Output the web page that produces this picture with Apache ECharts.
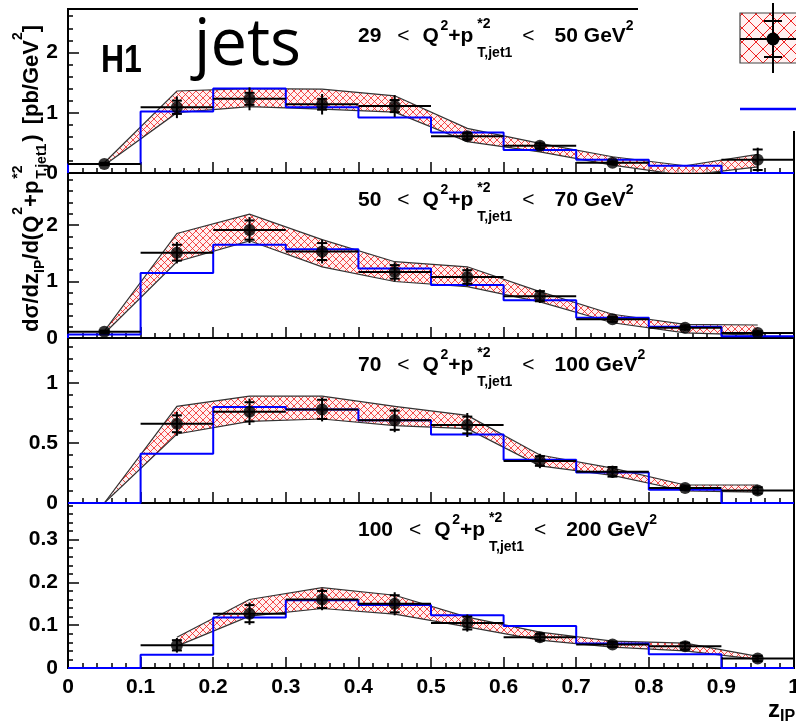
<!DOCTYPE html>
<html>
<head>
<meta charset="utf-8">
<script src="https://cdn.jsdelivr.net/npm/echarts@6/dist/echarts.min.js"></script>
<style>
  html, body { margin: 0; padding: 0; background: #fff; overflow: hidden; }
  #chart { width: 796px; height: 725px; }
</style>
</head>
<body>
<div id="chart"></div>
<script>
// ---- binning in z_IP ----
const zCenters = [0.05, 0.15, 0.25, 0.35, 0.45, 0.55, 0.65, 0.75, 0.85, 0.95];
const zEdges = [0, 0.1, 0.2, 0.3, 0.4, 0.5, 0.6, 0.7, 0.8, 0.9, 1.0];
const halfBin = 0.05;
const xTickLabels = ['0', '0.1', '0.2', '0.3', '0.4', '0.5', '0.6', '0.7', '0.8', '0.9', '1'];

// ---- 29 < Q2+pT*2 < 50 GeV2 ----
const xsec1  = [0.15, 1.09, 1.23, 1.14, 1.11, 0.61, 0.45, 0.17, null, 0.22];
const stat1  = [0.02, 0.11, 0.10, 0.09, 0.10, 0.05, 0.04, 0.02, null, 0.17];
const total1 = [0.03, 0.18, 0.19, 0.17, 0.18, 0.08, 0.07, 0.04, null, 0.20];
const nloUp1 = [0.17, 1.36, 1.40, 1.39, 1.28, 0.74, 0.49, 0.27, 0.12, 0.31];
const nloLo1 = [0.13, 1.00, 1.10, 1.06, 1.01, 0.52, 0.35, 0.13, -0.04, 0.10];
const mc1    = [0.15, 1.02, 1.40, 1.09, 0.92, 0.67, 0.38, 0.22, 0.12, 0.0];

// ---- 50 < Q2+pT*2 < 70 GeV2 ----
const xsec2  = [0.11, 1.51, 1.91, 1.53, 1.17, 1.08, 0.74, 0.33, 0.18, 0.09];
const stat2  = [0.02, 0.14, 0.17, 0.15, 0.12, 0.12, 0.09, 0.04, 0.03, 0.03];
const total2 = [0.03, 0.19, 0.23, 0.21, 0.17, 0.16, 0.12, 0.06, 0.05, 0.05];
const nloUp2 = [0.12, 1.85, 2.19, 1.74, 1.35, 1.26, 0.82, 0.42, 0.24, 0.23];
const nloLo2 = [0.08, 1.35, 1.72, 1.26, 1.00, 0.91, 0.64, 0.27, 0.09, 0.05];
const mc2    = [0.06, 1.15, 1.65, 1.57, 1.23, 0.94, 0.67, 0.36, 0.20, 0.03];

// ---- 70 < Q2+pT*2 < 100 GeV2 ----
const xsec3  = [null, 0.66, 0.76, 0.78, 0.69, 0.65, 0.35, 0.26, 0.125, 0.105];
const stat3  = [null, 0.07, 0.08, 0.08, 0.08, 0.07, 0.04, 0.04, 0.015, 0.025];
const total3 = [null, 0.10, 0.11, 0.10, 0.10, 0.10, 0.06, 0.05, 0.025, 0.04];
const nloUp3 = [0.0, 0.805, 0.89, 0.89, 0.805, 0.73, 0.40, 0.29, 0.15, 0.15];
const nloLo3 = [0.0, 0.575, 0.68, 0.70, 0.645, 0.62, 0.31, 0.23, 0.10, 0.09];
const mc3    = [0.0, 0.41, 0.80, 0.78, 0.69, 0.57, 0.36, 0.255, 0.11, 0.0];

// ---- 100 < Q2+pT*2 < 200 GeV2 ----
const xsec4  = [null, 0.053, 0.127, 0.160, 0.150, 0.105, 0.072, 0.055, 0.051, 0.022];
const stat4  = [null, 0.012, 0.020, 0.020, 0.020, 0.015, 0.008, 0.006, 0.008, 0.006];
const total4 = [null, 0.017, 0.026, 0.025, 0.027, 0.020, 0.012, 0.009, 0.012, 0.009];
const nloUp4 = [null, 0.072, 0.160, 0.188, 0.170, 0.119, 0.084, 0.063, 0.058, 0.027];
const nloLo4 = [null, 0.051, 0.121, 0.139, 0.126, 0.096, 0.065, 0.049, 0.040, 0.020];
const mc4    = [0.0, 0.031, 0.118, 0.158, 0.147, 0.123, 0.098, 0.057, 0.032, 0.0];

const scaleLow  = ['29', '50', '70', '100'];
const scaleHigh = ['50', '70', '100', '200'];

// ---- per-panel y axis ranges ----
const yMax   = [2.72, 2.92, 1.375, 0.3855];
const yMajor = [1, 1, 0.5, 0.1];
const yMinor = [0.2, 0.2, 0.1, 0.02];

const panels = [
  { xsec: xsec1, stat: stat1, total: total1, up: nloUp1, lo: nloLo1, mc: mc1 },
  { xsec: xsec2, stat: stat2, total: total2, up: nloUp2, lo: nloLo2, mc: mc2 },
  { xsec: xsec3, stat: stat3, total: total3, up: nloUp3, lo: nloLo3, mc: mc3 },
  { xsec: xsec4, stat: stat4, total: total4, up: nloUp4, lo: nloLo4, mc: mc4 }
];

// ---- layout ----
const panelTop = [9, 173, 338, 503];
const panelHeight = [164, 165, 165, 165];
const gridLeft = 68, gridRight = 2;

// ---- text helpers ----
const FAM = '"Liberation Sans", Arial, sans-serif';
const mctx = document.createElement('canvas').getContext('2d');
function fontOf(size, bold, fam) { return (bold ? 'bold ' : '') + size + 'px ' + (fam || FAM); }
function textWidth(s, size, bold, fam) { mctx.font = fontOf(size, bold, fam); return mctx.measureText(s).width; }
// distance from the canvas 'middle' line down to the alphabetic baseline
function midToBase(size, bold, fam) {
  mctx.font = fontOf(size, bold, fam);
  mctx.textBaseline = 'alphabetic';
  const a = mctx.measureText('H').actualBoundingBoxAscent;
  mctx.textBaseline = 'middle';
  const m = mctx.measureText('H').actualBoundingBoxAscent;
  mctx.textBaseline = 'alphabetic';
  return a - m;
}
function textEl(s, x, baseline, size, bold, fam) {
  return {
    type: 'text', x: x, y: baseline - midToBase(size, bold, fam),
    style: {
      text: s, fontSize: size, fontWeight: bold ? 'bold' : 'normal', fontFamily: fam || FAM,
      fill: '#000', align: 'left', verticalAlign: 'middle'
    }
  };
}
function layoutTokens(tokens, x0, base) {
  const els = [];
  let x = x0;
  tokens.forEach(tk => {
    if (tk.gap) { x += tk.gap; return; }
    if (tk.stack) {
      let w = 0;
      tk.stack.forEach(s => {
        els.push(textEl(s.t, x, base + s.dy, s.s, s.b));
        w = Math.max(w, textWidth(s.t, s.s, s.b));
      });
      x += w;
      return;
    }
    els.push(textEl(tk.t, x, base + (tk.dy || 0), tk.s, tk.b));
    x += textWidth(tk.t, tk.s, tk.b);
  });
  return els;
}

function rangeTokens(lo, hi) {
  return [
    { t: lo, s: 21, b: true }, { gap: 16 },
    { t: '<', s: 21, b: false }, { gap: 13 },
    { t: 'Q', s: 21, b: true }, { gap: 1.5 },
    { t: '2', s: 14, b: true, dy: -12 },
    { t: '+p', s: 21, b: true }, { gap: 4 },
    { stack: [{ t: '*2', s: 14, b: true, dy: -14 }, { t: 'T,jet1', s: 14, b: true, dy: 15 }] },
    { gap: 10 },
    { t: '<', s: 21, b: false }, { gap: 20 },
    { t: hi + ' GeV', s: 21, b: true },
    { t: '2', s: 14, b: true, dy: -12 }
  ];
}

const yTitleTokens = [
  { t: 'd\u03c3/dz', s: 22, b: true },
  { t: 'IP', s: 14, b: true, dy: 6 },
  { t: '/d(Q', s: 22, b: true }, { gap: 1 },
  { t: '2', s: 14, b: true, dy: -16 },
  { t: '+p', s: 22, b: true }, { gap: 2 },
  { stack: [{ t: '*2', s: 14, b: true, dy: -16 }, { t: 'T,jet1', s: 14, b: true, dy: 8 }] },
  { gap: 2 },
  { t: ')', s: 22, b: true }, { gap: 10 },
  { t: '[pb/GeV', s: 22, b: true },
  { t: '2', s: 14, b: true, dy: -16 },
  { t: ']', s: 22, b: true }
];

// ---- hatch patterns for the theory band ----
function makeHatch(n, lw) {
  const c = document.createElement('canvas');
  c.width = n; c.height = n;
  const g = c.getContext('2d');
  g.fillStyle = 'rgba(255,232,232,0.6)';
  g.fillRect(0, 0, n, n);
  g.strokeStyle = '#f02020';
  g.lineWidth = lw;
  g.beginPath();
  g.moveTo(0, 0); g.lineTo(n, n);
  g.moveTo(n, 0); g.lineTo(0, n);
  g.stroke();
  return c;
}
const hatchSmall = makeHatch(7, 0.8);
const hatchLarge = makeHatch(14, 1.0);

// ---- series ----
const series = [];
panels.forEach((p, i) => {
  // theory band: polygon through bin centres
  const bandPts = zCenters.map((z, k) => [z, p.lo[k], p.up[k]]).filter(d => d[1] != null);
  series.push({
    type: 'custom', xAxisIndex: i, yAxisIndex: i, clip: true, z: 1, silent: true,
    data: bandPts,
    renderItem: function (params, api) {
      if (params.dataIndex !== 0) return null;
      const upper = bandPts.map(d => api.coord([d[0], d[2]]));
      const lower = bandPts.map(d => api.coord([d[0], d[1]]));
      return {
        type: 'group',
        children: [
          { type: 'polygon', shape: { points: upper.concat(lower.slice().reverse()) },
            style: { fill: { image: hatchSmall, repeat: 'repeat' }, stroke: null } },
          { type: 'polyline', shape: { points: upper }, style: { stroke: '#333', lineWidth: 1.2, fill: null } },
          { type: 'polyline', shape: { points: lower }, style: { stroke: '#333', lineWidth: 1.2, fill: null } }
        ]
      };
    }
  });
  // model histogram
  const histPts = [[zEdges[0], 0]]
    .concat(p.mc.map((v, k) => [zEdges[k], v]))
    .concat([[zEdges[zEdges.length - 1], p.mc[p.mc.length - 1]]]);
  series.push({
    type: 'line', xAxisIndex: i, yAxisIndex: i, step: 'end', z: 3, silent: true,
    symbol: 'none', data: histPts,
    lineStyle: { color: '#0000ff', width: 2 }
  });
  // data: bin-width bars and error bars
  const dataPts = zCenters.map((z, k) => [z, p.xsec[k], p.stat[k], p.total[k]]).filter(d => d[1] != null);
  series.push({
    type: 'custom', xAxisIndex: i, yAxisIndex: i, clip: true, z: 4, silent: true,
    data: dataPts,
    renderItem: function (params, api) {
      const x = api.value(0), v = api.value(1), st = api.value(2), tt = api.value(3);
      const l = api.coord([x - halfBin, v]), r = api.coord([x + halfBin, v]);
      const top = api.coord([x, v + tt]), bot = api.coord([x, v - tt]);
      const sTop = api.coord([x, v + st]), sBot = api.coord([x, v - st]);
      const cap = 5;
      const ls = { stroke: '#000', lineWidth: 2 };
      return {
        type: 'group',
        children: [
          { type: 'line', shape: { x1: l[0], y1: l[1], x2: r[0], y2: r[1] }, style: ls },
          { type: 'line', shape: { x1: top[0], y1: top[1], x2: bot[0], y2: bot[1] }, style: ls },
          { type: 'line', shape: { x1: sTop[0] - cap, y1: sTop[1], x2: sTop[0] + cap, y2: sTop[1] }, style: ls },
          { type: 'line', shape: { x1: sBot[0] - cap, y1: sBot[1], x2: sBot[0] + cap, y2: sBot[1] }, style: ls }
        ]
      };
    }
  });
  series.push({
    type: 'scatter', xAxisIndex: i, yAxisIndex: i, z: 5, silent: true, clip: true,
    symbol: 'circle', symbolSize: 12,
    itemStyle: { color: '#000' },
    data: dataPts.map(d => [d[0], d[1]])
  });
});

// ---- axes ----
const tickFont = { color: '#000', fontFamily: FAM, fontWeight: 'bold', fontSize: 21 };
const grids = panelTop.map((t, i) => ({
  left: gridLeft, right: gridRight, top: t, height: panelHeight[i],
  containLabel: false, outerBoundsMode: 'none',
  show: true, borderColor: '#000', borderWidth: 2, backgroundColor: 'transparent'
}));
const xAxes = panelTop.map((t, i) => ({
  type: 'value', gridIndex: i, min: 0, max: 1, interval: 0.1, position: 'bottom',
  axisLine: { show: true, onZero: false, lineStyle: { color: '#000', width: 2 } },
  axisTick: { show: true, inside: true, length: 11, lineStyle: { color: '#000', width: 1.5 } },
  minorTick: { show: true, splitNumber: 5, length: 5, lineStyle: { color: '#000', width: 1.5 } },
  axisLabel: Object.assign({ show: i === 3, margin: 9, formatter: v => xTickLabels[Math.round(v * 10)] }, tickFont),
  splitLine: { show: false }, minorSplitLine: { show: false }
}));
const yAxesMajor = panelTop.map((t, i) => ({
  type: 'value', gridIndex: i, min: 0, max: yMax[i], interval: yMajor[i], position: 'left',
  axisLine: { show: true, onZero: false, lineStyle: { color: '#000', width: 2 } },
  axisTick: { show: true, inside: true, length: 11, lineStyle: { color: '#000', width: 1.5 } },
  axisLabel: Object.assign({ show: true, margin: 10, showMaxLabel: false, showMinLabel: true }, tickFont),
  splitLine: { show: false }
}));
const yAxesMinor = panelTop.map((t, i) => ({
  type: 'value', gridIndex: i, min: 0, max: yMax[i], interval: yMinor[i], position: 'left', offset: 0,
  axisLine: { show: false, onZero: false },
  axisTick: { show: true, inside: true, length: 5, lineStyle: { color: '#000', width: 1.5 } },
  axisLabel: { show: false },
  splitLine: { show: false }
}));

// ---- annotations ----
const graphics = [];
panelTop.forEach((t, i) => {
  layoutTokens(rangeTokens(scaleLow[i], scaleHigh[i]), 358, t + 33).forEach(e => { e.z = 20; graphics.push(e); });
});
// experiment tag
graphics.push({
  type: 'group', x: 101, y: 71.5, scaleY: 1.22, z: 20,
  children: [textEl('H1', 0, 0, 32, true)]
});
graphics.push(Object.assign(textEl('jets', 194, 65, 65, false, '"Open Sans", "DejaVu Sans", sans-serif'), { z: 20 }));
// y title (rotated, reads bottom to top)
graphics.push({
  type: 'group', x: 38, y: 332, rotation: Math.PI / 2, z: 20,
  children: layoutTokens(yTitleTokens, 0, 0)
});
// x title
layoutTokens([{ t: 'z', s: 24, b: true }, { t: 'IP', s: 16, b: true, dy: 4 }], 768, 717)
  .forEach(e => { e.z = 20; graphics.push(e); });

// legend box (top right)
graphics.push({ type: 'rect', z: 50, shape: { x: 638, y: 0, width: 160, height: 131 }, style: { fill: '#fff' } });
graphics.push({ type: 'rect', z: 51, shape: { x: 740, y: 13, width: 60, height: 50 },
  style: { fill: { image: hatchLarge, repeat: 'repeat' }, stroke: '#444', lineWidth: 1.2 } });
graphics.push({ type: 'line', z: 52, shape: { x1: 740, y1: 39, x2: 796, y2: 39 }, style: { stroke: '#000', lineWidth: 2 } });
graphics.push({ type: 'line', z: 52, shape: { x1: 773, y1: 3, x2: 773, y2: 73 }, style: { stroke: '#000', lineWidth: 2 } });
graphics.push({ type: 'line', z: 52, shape: { x1: 764, y1: 21, x2: 782, y2: 21 }, style: { stroke: '#000', lineWidth: 2 } });
graphics.push({ type: 'line', z: 52, shape: { x1: 764, y1: 57, x2: 782, y2: 57 }, style: { stroke: '#000', lineWidth: 2 } });
graphics.push({ type: 'circle', z: 53, shape: { cx: 773, cy: 39, r: 6.5 }, style: { fill: '#000' } });
graphics.push({ type: 'line', z: 52, shape: { x1: 740, y1: 109, x2: 796, y2: 109 }, style: { stroke: '#0000ff', lineWidth: 2.5 } });

const chart = echarts.init(document.getElementById('chart'), null, { renderer: 'canvas' });
chart.setOption({
  animation: false,
  backgroundColor: '#fff',
  grid: grids,
  xAxis: xAxes,
  yAxis: yAxesMajor.concat(yAxesMinor),
  series: series,
  graphic: { elements: graphics }
});
</script>
</body>
</html>
